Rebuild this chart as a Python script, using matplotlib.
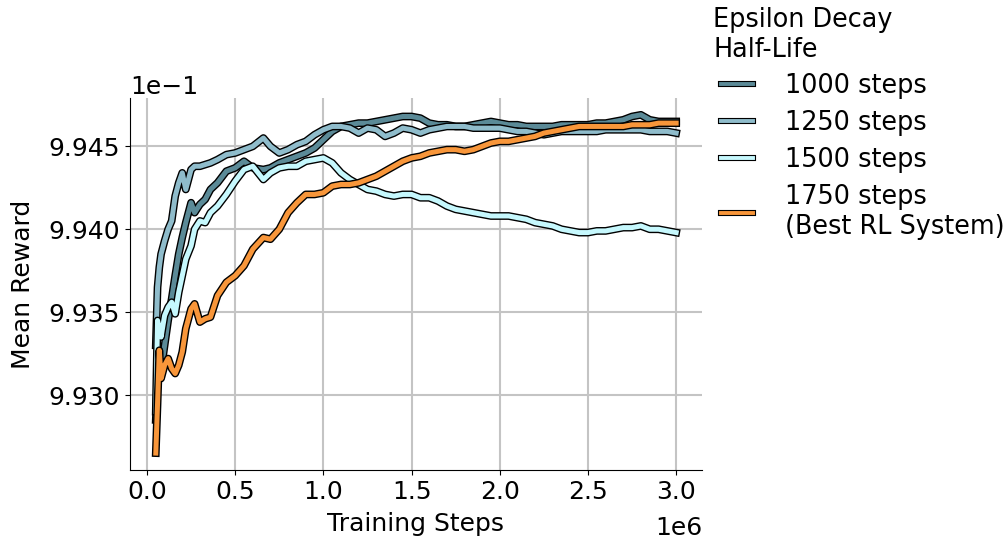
import matplotlib
matplotlib.use("Agg")
import matplotlib.pyplot as plt
import matplotlib.patheffects as pe
from matplotlib.lines import Line2D
from matplotlib.legend_handler import HandlerLine2D
import numpy as np

# training steps (millions), shared by all runs
steps = [0.05, 0.06, 0.07, 0.08, 0.10, 0.12, 0.14, 0.16, 0.18, 0.20, 0.22,
         0.25, 0.27, 0.30, 0.33, 0.36, 0.40, 0.45, 0.50, 0.55, 0.60, 0.66,
         0.70, 0.75, 0.80, 0.85, 0.90, 0.95, 1.00, 1.05, 1.10, 1.15, 1.20,
         1.25, 1.30, 1.35, 1.40, 1.45, 1.50, 1.55, 1.60, 1.65, 1.70, 1.75,
         1.80, 1.85, 1.90, 1.95, 2.00, 2.05, 2.10, 2.15, 2.20, 2.25, 2.30,
         2.35, 2.40, 2.45, 2.50, 2.55, 2.60, 2.65, 2.70, 2.75, 2.80, 2.85,
         2.90, 2.95, 3.00]

r1000 = [9.9285, 9.9310, 9.9325, 9.9315, 9.9330, 9.9345, 9.9358, 9.9372, 9.9385, 9.9395, 9.9404,
         9.9416, 9.9410, 9.9415, 9.9418, 9.9424, 9.9428, 9.9435, 9.9437, 9.9441, 9.9437, 9.9436,
         9.9437, 9.9440, 9.9442, 9.9444, 9.9446, 9.9449, 9.9454, 9.9459, 9.9462, 9.9463, 9.9464,
         9.9464, 9.9465, 9.9466, 9.9467, 9.9468, 9.9468, 9.9467, 9.9464, 9.9463, 9.9463, 9.9462,
         9.9462, 9.9463, 9.9464, 9.9465, 9.9464, 9.9463, 9.9463, 9.9462, 9.9462, 9.9462, 9.9462,
         9.9463, 9.9463, 9.9463, 9.9463, 9.9464, 9.9464, 9.9465, 9.9466, 9.9468, 9.9469, 9.9466,
         9.9465, 9.9465, 9.9465]
r1250 = [9.9330, 9.9365, 9.9377, 9.9385, 9.9393, 9.9400, 9.9405, 9.9420, 9.9428, 9.9434, 9.9424,
         9.9436, 9.9438, 9.9438, 9.9439, 9.9440, 9.9442, 9.9445, 9.9446, 9.9448, 9.9450, 9.9455,
         9.9450, 9.9446, 9.9448, 9.9451, 9.9453, 9.9457, 9.9460, 9.9462, 9.9462, 9.9461, 9.9458,
         9.9461, 9.9460, 9.9456, 9.9458, 9.9461, 9.9460, 9.9458, 9.9460, 9.9461, 9.9462, 9.9462,
         9.9462, 9.9461, 9.9461, 9.9461, 9.9461, 9.9460, 9.9459, 9.9459, 9.9458, 9.9457, 9.9458,
         9.9459, 9.9459, 9.9459, 9.9459, 9.9459, 9.9460, 9.9460, 9.9460, 9.9460, 9.9460, 9.9459,
         9.9459, 9.9459, 9.9458]
r1500 = [9.9290, 9.9345, 9.9340, 9.9335, 9.9348, 9.9353, 9.9356, 9.9349, 9.9362, 9.9372, 9.9382,
         9.9390, 9.9400, 9.9405, 9.9404, 9.9410, 9.9414, 9.9421, 9.9429, 9.9436, 9.9438, 9.9430,
         9.9434, 9.9437, 9.9438, 9.9438, 9.9441, 9.9442, 9.9443, 9.9440, 9.9434, 9.9430, 9.9427,
         9.9424, 9.9423, 9.9421, 9.9420, 9.9421, 9.9421, 9.9419, 9.9419, 9.9417, 9.9414, 9.9412,
         9.9411, 9.9410, 9.9409, 9.9408, 9.9408, 9.9408, 9.9407, 9.9406, 9.9404, 9.9403, 9.9402,
         9.9400, 9.9399, 9.9398, 9.9398, 9.9399, 9.9399, 9.9400, 9.9401, 9.9401, 9.9402, 9.9400,
         9.9400, 9.9399, 9.9398]
r1750 = [9.9265, 9.9295, 9.9327, 9.9310, 9.9318, 9.9322, 9.9316, 9.9313, 9.9318, 9.9326, 9.9340,
         9.9352, 9.9355, 9.9344, 9.9346, 9.9347, 9.9360, 9.9368, 9.9372, 9.9378, 9.9388, 9.9395,
         9.9394, 9.9400, 9.9410, 9.9416, 9.9421, 9.9421, 9.9422, 9.9426, 9.9427, 9.9427, 9.9428,
         9.9430, 9.9432, 9.9435, 9.9438, 9.9441, 9.9443, 9.9444, 9.9446, 9.9447, 9.9448, 9.9448,
         9.9447, 9.9448, 9.9450, 9.9452, 9.9453, 9.9453, 9.9454, 9.9455, 9.9456, 9.9458, 9.9459,
         9.9460, 9.9461, 9.9462, 9.9462, 9.9462, 9.9462, 9.9462, 9.9462, 9.9463, 9.9463, 9.9463,
         9.9464, 9.9464, 9.9464]

labels = ["1000 steps", "1250 steps", "1500 steps", "1750 steps\n(Best RL System)"]
colors = ["#5b8a97", "#8fbccb", "#c6f8fd", "#f8963a"]

plt.rcParams['font.family'] = 'DejaVu Sans'
plt.rcParams['font.size'] = 18

fig = plt.figure(figsize=(10.06, 5.44), dpi=100)
ax = fig.add_axes([0.129, 0.136, 0.569, 0.684])

x = np.array(steps) * 1e6
for ys, lab, c in zip([r1000, r1250, r1500, r1750], labels, colors):
	ax.plot(x, np.array(ys) * 0.1, color=c, lw=3.6, label=lab,
		path_effects=[pe.Stroke(linewidth=5.6, foreground='black'), pe.Normal()])

ax.grid(True, color='#c4c4c4', lw=1.5)
ax.set_axisbelow(True)
ax.spines['top'].set_visible(False)
ax.spines['right'].set_visible(False)
ax.ticklabel_format(axis='y', style='sci', scilimits=(0, 0), useOffset=False)
ax.set_yticks(np.array([9.930, 9.935, 9.940, 9.945]) * 0.1)
ax.xaxis.OFFSETTEXTPAD = 9
ax.set_xlabel("Training Steps", labelpad=6)
ax.set_ylabel("Mean Reward", labelpad=10)

leg = fig.legend(loc='upper left', bbox_to_anchor=(0.686, 1.03), frameon=False,
	title="Epsilon Decay\nHalf-Life", alignment='left', fontsize=18.4, title_fontsize=18.4,
	handlelength=1.55, handletextpad=1.25, labelspacing=0.42,
	handler_map={Line2D: HandlerLine2D(xpad=0.3)})
for h in leg.legend_handles:
	h.set_linewidth(2.8)
	h.set_path_effects([pe.Stroke(linewidth=4.4, foreground='black'), pe.Normal()])

fig.savefig("out.png", dpi=100)
